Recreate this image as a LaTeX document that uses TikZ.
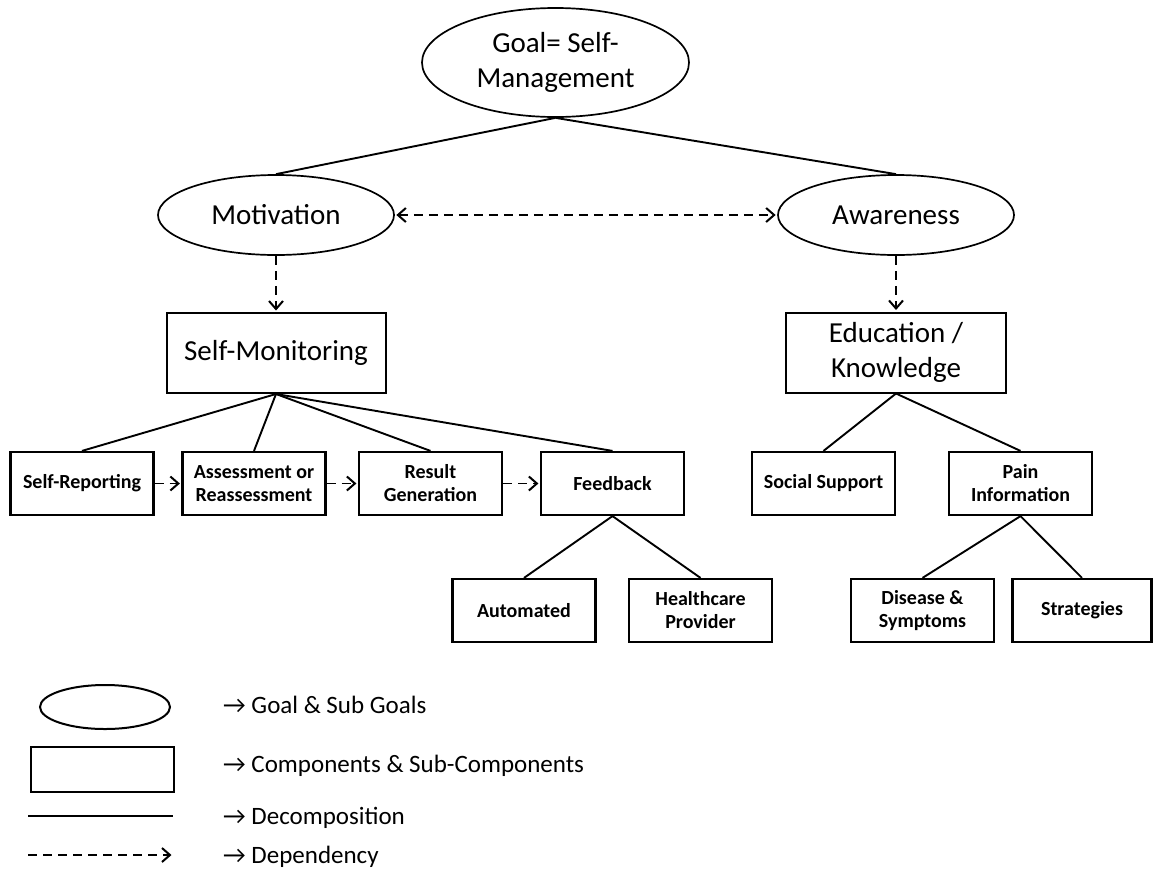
\documentclass[tikz,border=0pt]{standalone}
\usepackage{fontspec}
\setmainfont{Carlito}
\usetikzlibrary{shapes.geometric,arrows.meta}
\begin{document}
\begin{tikzpicture}[x=1pt,y=-1pt,
 goalnode/.style={ellipse,draw,line width=1.7pt,inner sep=0pt,font=\fontsize{29}{35}\selectfont,align=center},
 compnode/.style={rectangle,draw,line width=2pt,inner sep=0pt,minimum width=219pt,minimum height=80pt,font=\fontsize{29}{35}\selectfont,align=center},
 subnode/.style={rectangle,draw,line width=2.2pt,inner sep=0pt,minimum width=143pt,minimum height=63pt,font=\bfseries\fontsize{20}{23}\selectfont,align=center},
 decline/.style={line width=1.9pt},
 deptip/.tip={Straight Barb[length=8pt,width=14pt,line width=2pt]},
 depline/.style={line width=1.7pt,dash pattern=on 9pt off 6pt,-deptip,shorten >=1.5pt},
 lgdtext/.style={anchor=west,font=\fontsize{25}{30}\selectfont,inner sep=0pt}]
\useasboundingbox (0,0) rectangle (1153,873);
% goals
\node[goalnode,minimum width=267pt,minimum height=109pt] (goal) at (555.5,62.5) {Goal= Self-\\Management};
\node[goalnode,minimum width=236pt,minimum height=80pt] (mot) at (276,215) {Motivation};
\node[goalnode,minimum width=236pt,minimum height=80pt] (awa) at (896,215) {Awareness};
% components
\node[compnode] (sm) at (276,353) {Self-Monitoring};
\node[compnode,minimum width=220pt] (edu) at (896,352.5) {Education /\\Knowledge};
% sub-components
\node[subnode] (sr) at (82,483.5) {Self-Reporting};
\node[subnode] (as) at (254,483.5) {Assessment or\\Reassessment};
\node[subnode] (rg) at (430.5,483.5) {Result\\Generation};
\node[subnode] (fb) at (612.5,483.5) {Feedback};
\node[subnode] (ss) at (823.5,483.5) {Social Support};
\node[subnode] (pi) at (1020.5,483.5) {Pain\\Information};
\node[subnode] (au) at (524,610.5) {Automated};
\node[subnode] (hp) at (700.5,610.5) {Healthcare\\Provider};
\node[subnode] (ds) at (922.5,610.5) {Disease \&\\Symptoms};
\node[subnode,minimum width=139pt] (st) at (1082,610.5) {Strategies};
% decomposition
\draw[decline] (goal.south) -- (mot.north);
\draw[decline] (goal.south) -- (awa.north);
\draw[decline] (sm.south) -- (sr.north);
\draw[decline] (sm.south) -- (as.north);
\draw[decline] (sm.south) -- (rg.north);
\draw[decline] (sm.south) -- (fb.north);
\draw[decline] (edu.south) -- (ss.north);
\draw[decline] (edu.south) -- (pi.north);
\draw[decline] (fb.south) -- (au.north);
\draw[decline] (fb.south) -- (hp.north);
\draw[decline] (pi.south) -- (ds.north);
\draw[decline] (pi.south) -- (st.north);
% dependencies
\draw[depline,deptip-deptip,shorten <=1.5pt] (mot.east) -- (awa.west);
\draw[depline] (mot.south) -- (sm.north);
\draw[depline] (awa.south) -- (edu.north);
\draw[depline] (sr.east) -- (as.west);
\draw[depline] (as.east) -- (rg.west);
\draw[depline] (rg.east) -- (fb.west);
% legend
\node[goalnode,line width=2pt,minimum width=130pt,minimum height=44pt] (lg1) at (105,707) {};
\node[draw,line width=2.8pt,minimum width=143pt,minimum height=45pt,inner sep=0pt] (lg2) at (102.5,769.5) {};
\coordinate (l3a) at (28,816);
\coordinate (l3b) at (173,816);
\draw[decline] (l3a) -- (l3b);
\coordinate (l4a) at (28,855);
\coordinate (l4b) at (173,855);
\draw[depline] (l4a) -- (l4b);
\node[lgdtext] (t1) at (223,705) {→ Goal \& Sub Goals};
\node[lgdtext] (t2) at (223,766) {→ Components \& Sub-Components};
\node[lgdtext] (t3) at (223,818) {→ Decomposition};
\node[lgdtext] (t4) at (223,857) {→ Dependency};
\end{tikzpicture}
\end{document}
